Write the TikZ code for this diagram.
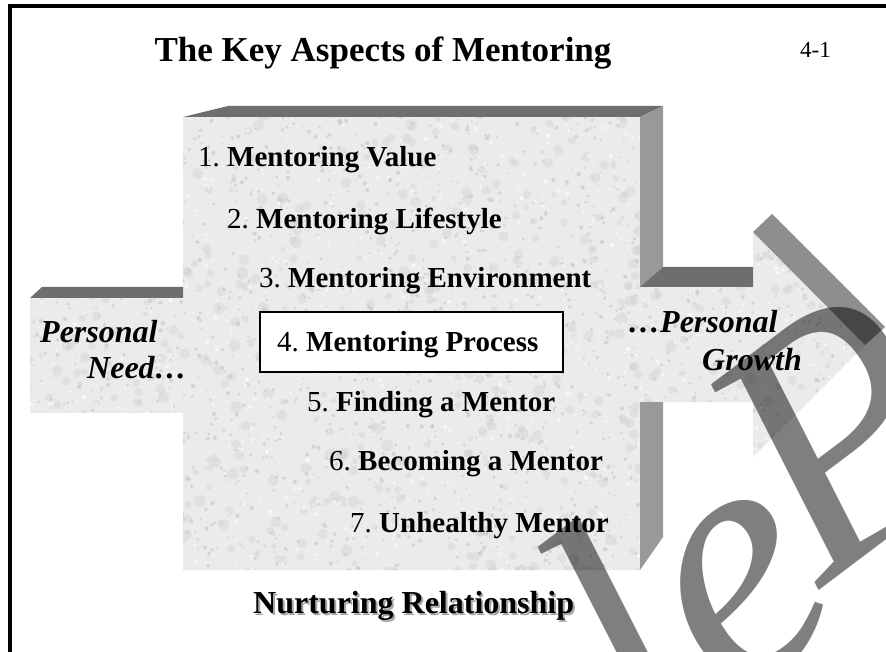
\documentclass[tikz,border=0pt]{standalone}
\usepackage{fontspec}
\setmainfont{Liberation Serif}
\frenchspacing
\begin{document}
\begin{tikzpicture}[x=1pt,y=-1pt,
  facebase/.style={fill=base},
  topbevel/.style={fill=topgray},
  sidebevel/.style={fill=sidegray},
  itemtext/.style={anchor=base west,inner sep=0pt,font=\fontsize{29}{29}\selectfont},
  sidetext/.style={anchor=base west,inner sep=0pt,font=\fontsize{32}{32}\selectfont\bfseries\itshape},
  wmtext/.style={rotate=37,inner sep=0pt,font=\fontsize{350}{350}\selectfont\itshape,text=black,text opacity=0.5}]
\definecolor{base}{HTML}{EBEBEB}
\definecolor{topgray}{HTML}{6E6E6E}
\definecolor{sidegray}{HTML}{999999}
\definecolor{headgray}{HTML}{8E8E8E}
\definecolor{speckdark}{HTML}{C8C8C8}
\useasboundingbox (0,0) rectangle (886,652);
\begin{scope}
\clip (0,0) rectangle (886,652);
\fill[white] (0,0) rectangle (886,652);
% frame
\draw[line width=4pt] (10,660) -- (10,6) -- (895,6);
\def\mainshape{(183,117) -- (640,117) -- (640,287) -- (753,287) -- (753,232) -- (865,345) -- (753,457) -- (753,402) -- (640,402) -- (640,570) -- (183,570) -- cycle}
\def\leftshape{(30,298) -- (183,298) -- (183,413) -- (30,413) -- cycle}
% faces
\fill[facebase] \mainshape;
\fill[facebase] \leftshape;
\begin{scope}
\clip \mainshape \leftshape;
\pgfmathsetseed{7}
\foreach \i in {1,...,700}{
  \pgfmathsetmacro\px{25+845*rnd}
  \pgfmathsetmacro\py{110+465*rnd}
  \pgfmathsetmacro\pr{2.5+3.5*rnd}
  \fill[speckdark,opacity=0.3] (\px,\py) circle[radius=\pr];
}
\foreach \i in {1,...,2000}{
  \pgfmathsetmacro\px{25+845*rnd}
  \pgfmathsetmacro\py{110+465*rnd}
  \pgfmathsetmacro\pr{0.7+1.5*rnd}
  \fill[speckdark,opacity=0.65] (\px,\py) circle[radius=\pr];
}
\foreach \i in {1,...,1000}{
  \pgfmathsetmacro\px{25+845*rnd}
  \pgfmathsetmacro\py{110+465*rnd}
  \pgfmathsetmacro\pr{0.7+1.4*rnd}
  \fill[white,opacity=0.6] (\px,\py) circle[radius=\pr];
}
\end{scope}
% bevels
\fill[topbevel] (183,117) -- (228,106) -- (663,106) -- (640,117) -- cycle;
\fill[sidebevel] (640,117) -- (663,106) -- (663,267) -- (640,287) -- cycle;
\fill[topbevel] (640,287) -- (663,267) -- (753,267) -- (753,287) -- cycle;
\fill[headgray] (753,232) -- (772,214) -- (885,327) -- (865,345) -- cycle;
\fill[sidebevel] (640,402) -- (663,402) -- (663,537) -- (640,570) -- cycle;
\fill[topbevel] (30,298) -- (42,287) -- (183,287) -- (183,298) -- cycle;
% title
\node[anchor=base,inner sep=0pt,font=\fontsize{35}{35}\selectfont\bfseries] (title) at (383,62) {The Key Aspects of Mentoring};
\node[anchor=base west,inner sep=0pt,font=\fontsize{23}{23}\selectfont] (pagenum) at (800,58) {4-1};
% items
\node[itemtext] (i1) at (198,167) {1. \textbf{Mentoring Value}};
\node[itemtext] (i2) at (227,229) {2. \textbf{Mentoring Lifestyle}};
\node[itemtext] (i3) at (259,288) {3. \textbf{Mentoring Environment}};
\draw[fill=white,line width=2.5pt] (260,312) rectangle (563,372);
\node[itemtext] (i4) at (277,351) {4. \textbf{Mentoring Process}};
\node[itemtext] (i5) at (307,411) {5. \textbf{Finding a Mentor}};
\node[itemtext] (i6) at (329,470) {6. \textbf{Becoming a Mentor}};
\node[itemtext] (i7) at (350,532) {7. \textbf{Unhealthy Mentor}};
% side labels
\node[sidetext] (need1) at (40,342) {Personal};
\node[sidetext] (need2) at (87,378) {Need\dots};
\node[sidetext] (grow1) at (628,332) {\dots Personal};
\node[sidetext] (grow2) at (702,370) {Growth};
% bottom label with shadow
\node[anchor=base west,inner sep=0pt,font=\fontsize{32}{32}\selectfont\bfseries] (nurt) at (253,613)
  {\rlap{\hspace{2pt}\raisebox{-2pt}{\color{gray!70}Nurturing Relationship}}Nurturing Relationship};
% watermark
\node[wmtext,anchor=base east] (wm1) at (855,612) {Sample};
\node[wmtext,anchor=base west] (wm2) at (820,590) {Page};
\end{scope}
\end{tikzpicture}
\end{document}
